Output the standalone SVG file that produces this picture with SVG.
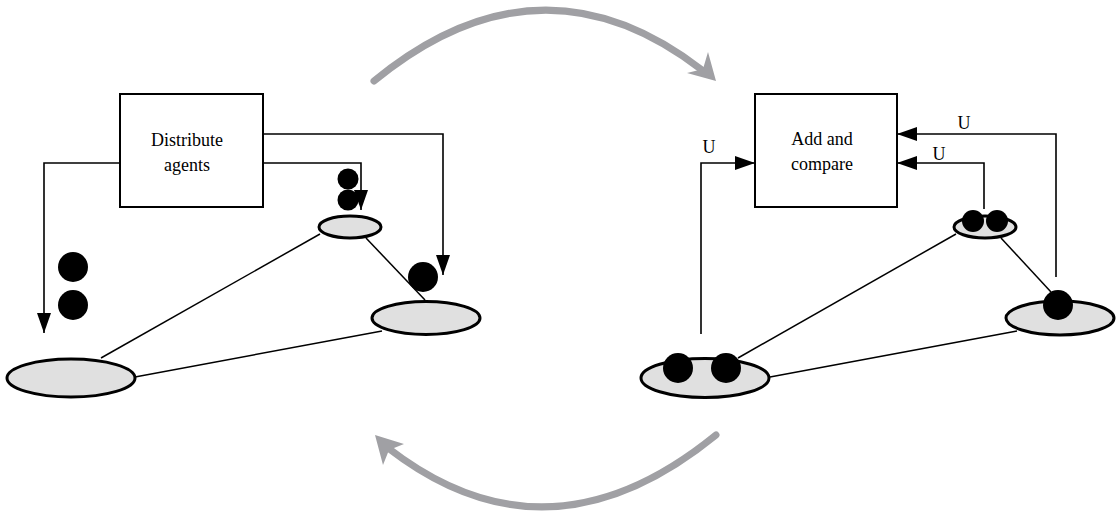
<svg xmlns="http://www.w3.org/2000/svg" width="1116" height="516" viewBox="0 0 1116 516">
<style>
.box{fill:#fff;stroke:#000;stroke-width:2}
.lbl{font-family:"Liberation Serif","Times New Roman",serif;font-size:18px;fill:#000}
.conn{fill:none;stroke:#000;stroke-width:1.6}
.edge{fill:none;stroke:#000;stroke-width:1.5}
.site{fill:#e0e0e0;stroke:#000;stroke-width:3}
.agent{fill:#000}
.cycle{fill:none;stroke:#a0a0a4;stroke-width:7;stroke-linecap:round}
.cyclehead{fill:#a0a0a4}
</style>
<defs>
<marker id="ah" markerUnits="userSpaceOnUse" markerWidth="20" markerHeight="14" refX="20" refY="7" orient="auto">
<path d="M0,0 L20,7 L0,14 z" fill="#000"/>
</marker>
</defs>
<g id="cycle-top">
<path class="cycle" d="M374,81 Q540,-55 702,70"/>
<polygon class="cyclehead" points="716,81 708,52 703,69 687,73"/>
</g>
<g id="cycle-bottom">
<path class="cycle" d="M716,435 Q548,572 388,448"/>
<polygon class="cyclehead" points="375,435 404,444 389,450 383,465"/>
</g>
<g id="connectors">
<path class="conn" d="M120,163 H44 V333" marker-end="url(#ah)"/>
<path class="conn" d="M263,163 H361 V210" marker-end="url(#ah)"/>
<path class="conn" d="M263,134 H443 V275" marker-end="url(#ah)"/>
<path class="conn" d="M701,334 V163 H755" marker-end="url(#ah)"/>
<path class="conn" d="M984,209 V163 H897" marker-end="url(#ah)"/>
<path class="conn" d="M1056,277 V134 H897" marker-end="url(#ah)"/>
<line class="edge" x1="320" y1="234" x2="101" y2="358"/>
<line class="edge" x1="366" y1="238" x2="425" y2="300"/>
<line class="edge" x1="382" y1="331" x2="135" y2="377"/>
<line class="edge" x1="956" y1="234" x2="738" y2="358"/>
<line class="edge" x1="1001" y1="238" x2="1051" y2="292"/>
<line class="edge" x1="1017" y1="331" x2="770" y2="377"/>
</g>
<g id="distribute-agents">
<rect class="box" x="120" y="94" width="143" height="113"/>
<text class="lbl" x="187" y="146" text-anchor="middle">Distribute</text>
<text class="lbl" x="187" y="171" text-anchor="middle">agents</text>
</g>
<g id="add-and-compare">
<rect class="box" x="755" y="94" width="142" height="113"/>
<text class="lbl" x="822" y="145" text-anchor="middle">Add and</text>
<text class="lbl" x="822" y="170" text-anchor="middle">compare</text>
</g>
<g id="labels-u">
<text class="lbl" x="709" y="153" text-anchor="middle">U</text>
<text class="lbl" x="939" y="160" text-anchor="middle">U</text>
<text class="lbl" x="964" y="129" text-anchor="middle">U</text>
</g>
<g id="left-site-top">
<ellipse class="site" cx="350" cy="227" rx="31" ry="11"/>
</g>
<g id="left-site-right">
<ellipse class="site" cx="426" cy="318" rx="54" ry="16.5"/>
</g>
<g id="left-site-bottom">
<ellipse class="site" cx="71" cy="378" rx="64" ry="19"/>
</g>
<g id="left-agents">
<circle class="agent" cx="73" cy="267" r="15"/>
<circle class="agent" cx="73" cy="305" r="15"/>
<circle class="agent" cx="348" cy="179" r="10.5"/>
<circle class="agent" cx="348" cy="200" r="10.5"/>
<circle class="agent" cx="423" cy="277" r="15"/>
</g>
<g id="right-site-top">
<ellipse class="site" cx="985" cy="227" rx="31" ry="11"/>
<circle class="agent" cx="973" cy="221" r="11"/>
<circle class="agent" cx="997" cy="221" r="11"/>
</g>
<g id="right-site-right">
<ellipse class="site" cx="1060" cy="318" rx="54" ry="17"/>
<circle class="agent" cx="1058" cy="305" r="15"/>
</g>
<g id="right-site-bottom">
<ellipse class="site" cx="705" cy="378" rx="64" ry="19.5"/>
<circle class="agent" cx="678" cy="368" r="15"/>
<circle class="agent" cx="726" cy="368" r="15"/>
</g>
</svg>
